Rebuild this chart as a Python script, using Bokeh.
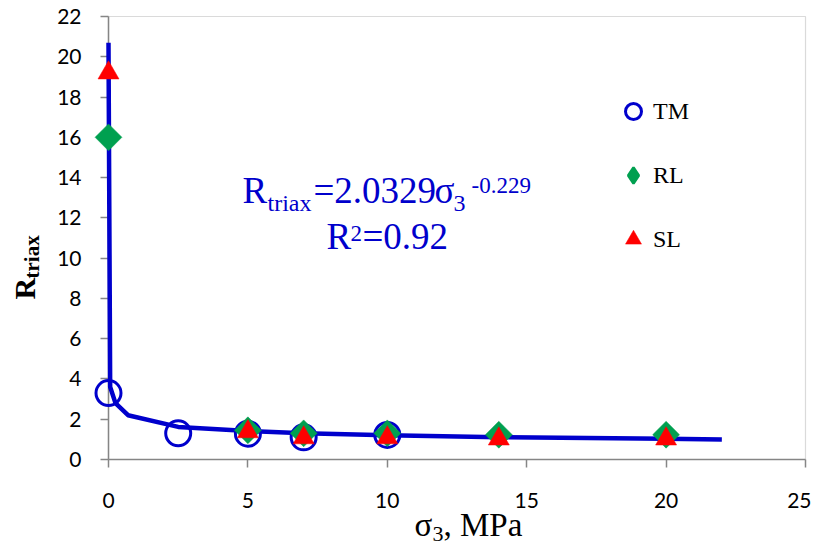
from bokeh.plotting import figure
from bokeh.models import (Label, Legend, LegendItem, SingleIntervalTicker,
                          Range1d, BoxAnnotation)
from bokeh.embed import file_html
from bokeh.resources import INLINE
import math

# ---- data ----
tm_x = [0, 2.5, 5, 7, 10]
tm_y = [3.3, 1.3, 1.28, 1.1, 1.22]

rl_x = [0, 5, 7, 10, 14, 20]
rl_y = [16.0, 1.45, 1.3, 1.3, 1.23, 1.23]

sl_x = [0, 5, 7, 10, 14, 20]
sl_y = [19.2, 1.38, 1.08, 1.08, 1.02, 1.02]

fit_x = [0.0, 0.06, 0.25, 0.7, 2.5, 5, 7, 10, 14, 20, 22]
fit_y = [20.7, 3.6, 2.8, 2.2, 1.62, 1.42, 1.30, 1.20, 1.11, 1.03, 0.99]

x_min, x_max, x_step = 0, 25, 5
y_min, y_max, y_step = 0, 22, 2

BLUE = "#0000CC"
GREEN = "#00A050"
RED = "#FF0000"
GRAY = "#868686"

# ---- layout (pixels on the canvas) ----
W, H = 811, 545
FL, FR, FT, FB = 108, 805, 16, 459          # plot-area box in pixels
sx = (FR - FL) / (x_max - x_min)
sy = (FB - FT) / (y_max - y_min)

def dx(px):
    return x_min + (px - FL) / sx

def dy(py):
    return y_min + (FB - py) / sy

p = figure(width=W, height=H,
           x_range=Range1d(dx(0), dx(W)), y_range=Range1d(dy(H), dy(0)),
           output_backend="svg", toolbar_location=None,
           min_border_left=0, min_border_right=0,
           min_border_top=0, min_border_bottom=0)
p.grid.visible = False
p.outline_line_color = None
p.background_fill_color = "white"
p.border_fill_color = "white"

p.add_layout(BoxAnnotation(left=x_min, right=x_max, bottom=y_min, top=y_max,
                           fill_alpha=0, line_color=GRAY, line_width=1.2,
                           level="underlay"))

for ax, st, bd in ((p.xaxis[0], x_step, (x_min, x_max)),
                   (p.yaxis[0], y_step, (y_min, y_max))):
    ax.ticker = SingleIntervalTicker(interval=st)
    ax.fixed_location = 0
    ax.bounds = bd
    ax.level = "underlay"
    ax.minor_tick_line_color = None
    ax.axis_line_color = GRAY
    ax.axis_line_width = 1.5
    ax.major_tick_line_color = GRAY
    ax.major_tick_line_width = 1.5
    ax.major_tick_out = 8
    ax.major_tick_in = 0
    ax.major_label_text_font = "Lato"
    ax.major_label_text_font_size = "21px"
    ax.major_label_text_color = "black"
p.xaxis[0].major_label_standoff = 25
p.yaxis[0].major_label_standoff = 19

p.line(fit_x, fit_y, line_color=BLUE, line_width=4.5)

# diamond-shaped swatch source for the RL legend key (hidden under the RL marks)
r_rl_key = p.scatter(rl_x, rl_y, marker="diamond", size=18, fill_color=GREEN,
                     line_color=GREEN, line_width=2.5)
r_tm = p.scatter(tm_x, tm_y, marker="circle", size=25, fill_color=None,
                 line_color=BLUE, line_width=3)
r_rl = p.scatter(rl_x, rl_y, marker="square", size=19, angle=math.pi / 4,
                 fill_color=GREEN, line_color=GREEN, line_width=0.5)
r_sl = p.scatter(sl_x, sl_y, marker="triangle", size=21, fill_color=RED,
                 line_color=RED, line_width=0.5)

legend = Legend(items=[LegendItem(label="TM", renderers=[r_tm]),
                       LegendItem(label="RL", renderers=[r_rl_key]),
                       LegendItem(label="SL", renderers=[r_sl])],
                location=(613, H - 259), glyph_width=40, glyph_height=40,
                label_standoff=0, spacing=24, padding=0, margin=0,
                border_line_color=None, background_fill_alpha=0,
                label_text_font="Liberation Serif", label_text_font_size="24px",
                label_text_color="black")
p.add_layout(legend)

K = 0.31  # baseline correction (fraction of font size)

def txt(s, px, py, size, color="black", bold=False, vertical=False):
    if vertical:
        px = px - K * size
    else:
        py = py - K * size
    p.add_layout(Label(x=dx(px), y=dy(py), text=s, text_font="Liberation Serif",
                       text_font_size=f"{size}px", text_color=color,
                       text_font_style="bold" if bold else "normal",
                       text_align="left", text_baseline="alphabetic",
                       angle=math.pi / 2 if vertical else 0.0))

# equation
txt("R", 242, 201, 37, BLUE)
txt("triax", 267, 210, 24, BLUE)
txt("=2.0329", 313, 201, 37, BLUE)
txt("σ", 434, 201, 37, BLUE)
txt("3", 453, 210, 24, BLUE)
txt("-0.229", 471, 192, 23, BLUE)
txt("R", 326, 247, 37, BLUE)
txt("2", 350, 240, 23, BLUE)
txt("=0.92", 362, 247, 37, BLUE)

# axis titles
txt("σ", 414, 535, 33)
txt("3", 432, 540, 22)
txt(", MPa", 443, 535, 33)
txt("R", 33, 299, 30, bold=True, vertical=True)
txt("triax", 38, 278, 21, bold=True, vertical=True)

open("out.html", "w").write(file_html(p, INLINE))
